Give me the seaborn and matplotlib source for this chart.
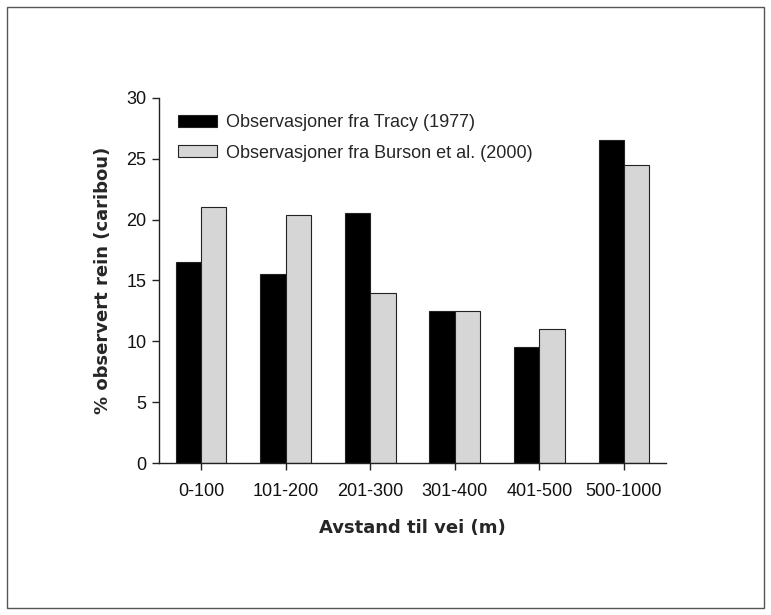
import matplotlib
matplotlib.use("Agg")
import matplotlib.pyplot as plt
import matplotlib.patches as mpatches
import pandas as pd
import seaborn as sns

# Data
categories = ["0-100", "101-200", "201-300", "301-400", "401-500", "500-1000"]
tracy_1977 = [16.5, 15.5, 20.5, 12.5, 9.5, 26.5]
burson_2000 = [21.0, 20.4, 14.0, 12.5, 11.0, 24.5]
series_names = ["Observasjoner fra Tracy (1977)", "Observasjoner fra Burson et al. (2000)"]
y_ticks = [0, 5, 10, 15, 20, 25, 30]

df = pd.DataFrame({
    "avstand": categories * 2,
    "prosent": tracy_1977 + burson_2000,
    "kilde": [series_names[0]] * len(categories) + [series_names[1]] * len(categories),
})

sns.set_theme(style="white")
plt.rcParams["font.family"] = ["Liberation Sans", "DejaVu Sans"]

fig = plt.figure(figsize=(7.71, 6.15), dpi=100)
ax = fig.add_axes([0.206, 0.247, 0.658, 0.594])

palette = {series_names[0]: "#000000", series_names[1]: "#d6d6d6"}
sns.barplot(data=df, x="avstand", y="prosent", hue="kilde", order=categories,
            hue_order=series_names, palette=palette, width=0.6, gap=0,
            edgecolor="#222222", linewidth=0.8, saturation=1, ax=ax)

ax.set_xlim(-0.5, 5.5)
ax.set_ylim(0, 30)
ax.set_yticks(y_ticks)
ax.set_yticklabels([str(t) for t in y_ticks])

sns.despine(ax=ax)
for side in ["left", "bottom"]:
    ax.spines[side].set_color("#222222")
    ax.spines[side].set_linewidth(1.0)
ax.tick_params(axis="both", direction="out", length=5, width=1, color="#222222",
               labelsize=13, labelcolor="#111111", left=True, bottom=True)
ax.tick_params(axis="x", pad=9)
ax.tick_params(axis="y", pad=4)

# bold axis titles in a wider face, like the original
label_font = dict(fontsize=13, fontweight="bold", family=["DejaVu Sans"])
ax.set_xlabel("Avstand til vei (m)", labelpad=14, **label_font)
ax.set_ylabel("% observert rein (caribou)", labelpad=10, **label_font)

handles = [mpatches.Patch(facecolor=palette[n], edgecolor="#222222", linewidth=0.8)
           for n in series_names]
ax.legend(handles, series_names, loc="upper left", bbox_to_anchor=(0.005, 1.0),
          frameon=False, fontsize=13, handlelength=2.2, handleheight=0.65,
          handletextpad=0.5, labelspacing=0.75)

# grey frame around the whole figure
fig.patches.append(mpatches.Rectangle((0.009, 0.011), 0.982, 0.978,
                                      transform=fig.transFigure, fill=False,
                                      edgecolor="#555555", linewidth=1.0))

fig.savefig("out.png", dpi=100)
